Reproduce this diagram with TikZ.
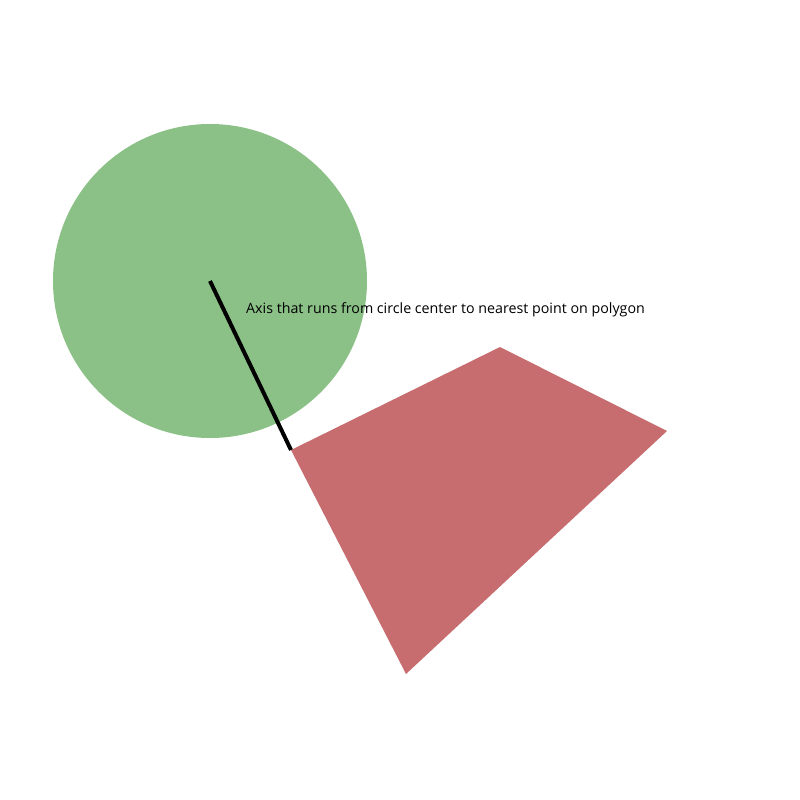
\documentclass[tikz,border=0pt]{standalone}
\usepackage{fontspec}
\setmainfont{Open Sans}
\definecolor{cgreen}{HTML}{8BC187}
\definecolor{cred}{HTML}{C86D6F}
\tikzset{
  disc/.style={circle,fill=cgreen,minimum size=314pt,inner sep=0pt},
  axisline/.style={line width=4pt,black},
  lbl/.style={anchor=west,inner sep=0pt,font=\fontsize{14.25}{16}\selectfont}
}
\begin{document}
\begin{tikzpicture}[x=1pt,y=-1pt]
\useasboundingbox (0,0) rectangle (800,800);
\node[disc] (c) at (210,281) {};
\coordinate (p1) at (291,450);
\coordinate (p2) at (500,347);
\coordinate (p3) at (667,431);
\coordinate (p4) at (406,674);
\fill[cred] (p1) -- (p2) -- (p3) -- (p4) -- cycle;
\draw[axisline] (c.center) -- (p1);
\node[lbl] (t) at (246,310) {Axis that runs from circle center to nearest point on polygon};
\end{tikzpicture}
\end{document}
